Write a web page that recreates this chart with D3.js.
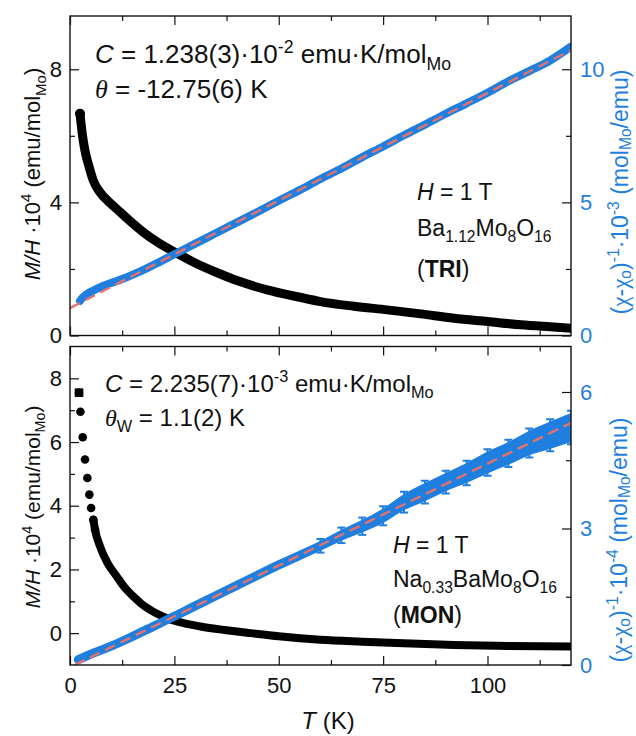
<!DOCTYPE html>
<html>
<head>
<meta charset="utf-8">
<script src="https://cdn.jsdelivr.net/npm/d3@7"></script>
<style>
  body { margin: 0; background: #fff; }
  text { font-family: "Liberation Sans", Arial, sans-serif; }
</style>
</head>
<body>
<div id="chart"></div>
<script>
// ==== Data ====

// TRI sample, M/H*10^4 (left axis)
const triT = [2.4, 3.0, 3.6, 4.5, 5.6, 7.2, 9.6, 11.2, 14, 17.6, 21, 25.6, 30, 35, 40, 47, 55, 60, 68, 76, 84, 92, 100, 108, 115, 120];
const triM = [6.66, 6.0, 5.55, 5.1, 4.65, 4.3, 3.98, 3.8, 3.48, 3.1, 2.8, 2.47, 2.18, 1.9, 1.65, 1.38, 1.15, 1.02, 0.88, 0.77, 0.65, 0.52, 0.42, 0.32, 0.26, 0.22];

// TRI sample, inverse susceptibility *10^-3 (right axis)
const triInvT = [2.4, 3, 4, 5.5, 7, 10, 13, 16, 20, 25, 30, 35, 40, 45, 50, 55, 60, 65, 70, 75, 80, 85, 90, 95, 100, 105, 110, 115, 120];
const triInv = [1.30, 1.42, 1.55, 1.68, 1.80, 1.98, 2.15, 2.35, 2.65, 3.05, 3.45, 3.85, 4.25, 4.65, 5.06, 5.46, 5.88, 6.27, 6.70, 7.10, 7.52, 7.92, 8.33, 8.72, 9.12, 9.55, 9.93, 10.33, 10.85];
const triFitT = [0, 120];
const triFitInv = [1.03, 10.72];

// MON sample, M/H*10^4 (left axis)
const monT = [2.16, 2.5, 3.05, 3.6, 4.16, 4.64, 5.05, 5.6, 6.0, 7.2, 9, 11.2, 13, 15.2, 17, 19.2, 21, 23.2, 27, 31.25, 37, 43.3, 50, 60, 70, 80, 92, 105, 120];
const monM = [7.55, 6.95, 6.15, 5.45, 4.87, 4.35, 3.93, 3.56, 3.25, 2.72, 2.2, 1.78, 1.45, 1.15, 0.93, 0.73, 0.6, 0.47, 0.32, 0.21, 0.1, 0.0, -0.1, -0.21, -0.27, -0.32, -0.37, -0.4, -0.42];

// MON sample, inverse susceptibility *10^-4 (right axis) with error
const monInvT = [2, 5, 10, 15, 20, 25, 30, 40, 50, 60, 65, 70, 75, 80, 85, 90, 95, 100, 105, 110, 115, 120];
const monInv = [0.12, 0.24, 0.42, 0.63, 0.85, 1.07, 1.3, 1.75, 2.2, 2.62, 2.85, 3.05, 3.28, 3.58, 3.8, 4.02, 4.22, 4.45, 4.65, 4.88, 5.05, 5.22];
const monErr = [0.05, 0.05, 0.05, 0.05, 0.05, 0.06, 0.06, 0.07, 0.08, 0.1, 0.12, 0.14, 0.16, 0.18, 0.2, 0.2, 0.22, 0.24, 0.25, 0.27, 0.3, 0.32];
const monFitT = [1.1, 120];
const monFitInv = [0, 5.32];

// ticks
const xMajor = [0, 25, 50, 75, 100];
const xMinor = [12.5, 37.5, 62.5, 87.5, 112.5];
const xLabels = ["0", "25", "50", "75", "100"];

const blue = "#1f7fde";
const red = "#e5716c";

// ==== Layout ====
const W = 636, H = 736;
const left = 70, right = 571;

const svg = d3.select("#chart").append("svg")
  .attr("width", W).attr("height", H);

const x = d3.scaleLinear().domain([0, 120]).range([left, right]);

const panels = [
  {
    id: "tri", top: 16, bottom: 335.5,
    yL: [0, 9.6], yR: [0, 12],
    lMajor: [0, 4, 8], lMinor: [2, 6],
    rMajor: [0, 5, 10], rMinor: [2.5, 7.5]
  },
  {
    id: "mon", top: 346.5, bottom: 665,
    yL: [-1, 9], yR: [0, 7],
    lMajor: [0, 2, 4, 6, 8], lMinor: [1, 3, 5, 7],
    rMajor: [0, 3, 6], rMinor: [1.5, 4.5]
  }
];

panels.forEach(p => {
  p.yLeft = d3.scaleLinear().domain(p.yL).range([p.bottom, p.top]);
  p.yRight = d3.scaleLinear().domain(p.yR).range([p.bottom, p.top]);
  svg.append("clipPath").attr("id", "clip-" + p.id)
    .append("rect")
    .attr("x", left).attr("y", p.top)
    .attr("width", right - left).attr("height", p.bottom - p.top);
});

// rich text helper: parts = [{t, i, b, sup, sub, serif}]
function rich(g, parts, px, py, size, anchor, subShift) {
  const t = g.append("text")
    .attr("x", px).attr("y", py)
    .attr("font-size", size)
    .attr("text-anchor", anchor || "start")
    .attr("fill", "#111");
  let shift = 0;
  parts.forEach(d => {
    const s = t.append("tspan").text(d.t);
    const target = d.sup ? -0.4 * size : d.sub ? (subShift || 0.25) * size : 0;
    s.attr("dy", target - shift);
    shift = target;
    if (d.sup || d.sub) s.attr("font-size", size * 0.68);
    if (d.i) s.attr("font-style", "italic");
    if (d.b) s.attr("font-weight", "bold");
    if (d.serif) s.attr("font-family", "'Liberation Serif', 'DejaVu Serif', serif");
  });
  return t;
}

// ==== Axes ====
function drawAxes(p, showXLabels) {
  const g = svg.append("g").attr("class", "axes-" + p.id);

  const tickStyle = sel => {
    sel.select(".domain").remove();
    sel.selectAll(".tick line").attr("stroke", "#111").attr("stroke-width", 1.2);
    sel.selectAll(".tick text").attr("font-size", 22)
      .attr("font-family", "'Liberation Sans', Arial, sans-serif");
  };

  // bottom x
  g.append("g").attr("transform", `translate(0,${p.bottom})`)
    .call(d3.axisBottom(x).tickValues(xMajor).tickSize(-9).tickPadding(12)
      .tickFormat((d, i) => showXLabels ? xLabels[i] : ""))
    .call(tickStyle)
    .selectAll(".tick text").attr("fill", "#111");
  g.append("g").attr("transform", `translate(0,${p.bottom})`)
    .call(d3.axisBottom(x).tickValues(xMinor).tickSize(-5).tickFormat(""))
    .call(tickStyle);

  // top x
  g.append("g").attr("transform", `translate(0,${p.top})`)
    .call(d3.axisTop(x).tickValues(xMajor).tickSize(-9).tickFormat(""))
    .call(tickStyle);
  g.append("g").attr("transform", `translate(0,${p.top})`)
    .call(d3.axisTop(x).tickValues(xMinor).tickSize(-5).tickFormat(""))
    .call(tickStyle);

  // left
  g.append("g").attr("transform", `translate(${left},0)`)
    .call(d3.axisLeft(p.yLeft).tickValues(p.lMajor).tickSize(-9).tickPadding(8).tickFormat(d3.format("d")))
    .call(tickStyle)
    .selectAll(".tick text").attr("fill", "#111");
  g.append("g").attr("transform", `translate(${left},0)`)
    .call(d3.axisLeft(p.yLeft).tickValues(p.lMinor).tickSize(-5).tickFormat(""))
    .call(tickStyle);

  // right
  g.append("g").attr("transform", `translate(${right},0)`)
    .call(d3.axisRight(p.yRight).tickValues(p.rMajor).tickSize(-9).tickPadding(9).tickFormat(d3.format("d")))
    .call(tickStyle)
    .selectAll(".tick text").attr("fill", blue);
  g.append("g").attr("transform", `translate(${right},0)`)
    .call(d3.axisRight(p.yRight).tickValues(p.rMinor).tickSize(-5).tickFormat(""))
    .call(tickStyle);

  // frame
  g.append("rect")
    .attr("x", left).attr("y", p.top)
    .attr("width", right - left).attr("height", p.bottom - p.top)
    .attr("fill", "none").attr("stroke", "#111").attr("stroke-width", 1.4);
}

// ==== Marks ====
function lineOf(xs, ys, yScale) {
  return d3.line().x(d => x(d[0])).y(d => yScale(d[1])).curve(d3.curveMonotoneX)(d3.zip(xs, ys));
}

function drawTri(p) {
  const g = svg.append("g").attr("clip-path", "url(#clip-tri)");
  // black M/H
  g.append("path")
    .attr("d", lineOf(triT, triM, p.yLeft))
    .attr("fill", "none").attr("stroke", "#000")
    .attr("stroke-width", 9).attr("stroke-linecap", "round").attr("stroke-linejoin", "round");
  g.append("circle")
    .attr("cx", x(triT[0])).attr("cy", p.yLeft(triM[0])).attr("r", 5).attr("fill", "#000");
  // blue inverse
  g.append("path")
    .attr("d", lineOf(triInvT, triInv, p.yRight))
    .attr("fill", "none").attr("stroke", blue)
    .attr("stroke-width", 8).attr("stroke-linecap", "round");
  // fit
  g.append("path")
    .attr("d", d3.line().x(d => x(d[0])).y(d => p.yRight(d[1]))(d3.zip(triFitT, triFitInv)))
    .attr("fill", "none").attr("stroke", red)
    .attr("stroke-width", 2.4).attr("stroke-dasharray", "11 6");
}

function drawMon(p) {
  const g = svg.append("g").attr("clip-path", "url(#clip-mon)");
  const pts = d3.zip(monT, monM);
  // continuous part
  g.append("path")
    .attr("d", d3.line().x(d => x(d[0])).y(d => p.yLeft(d[1])).curve(d3.curveMonotoneX)(pts.filter(d => d[0] >= 5.6)))
    .attr("fill", "none").attr("stroke", "#000")
    .attr("stroke-width", 8).attr("stroke-linecap", "round").attr("stroke-linejoin", "round");
  // discrete low-T markers
  g.selectAll(".mk").data(pts.filter(d => d[0] < 7)).join("circle")
    .attr("class", "mk")
    .attr("cx", d => x(d[0])).attr("cy", d => p.yLeft(d[1]))
    .attr("r", 4.3).attr("fill", "#000");
  g.append("rect")
    .attr("x", x(monT[0]) - 4.3).attr("y", p.yLeft(monM[0]) - 4.3)
    .attr("width", 8.6).attr("height", 8.6).attr("fill", "#000");

  // blue with error envelope
  const bp = monInvT.map((t, i) => ({ t, v: monInv[i], e: monErr[i] }));
  g.append("path")
    .attr("d", d3.area().x(d => x(d.t)).y0(d => p.yRight(d.v - d.e)).y1(d => p.yRight(d.v + d.e))
      .curve(d3.curveMonotoneX)(bp))
    .attr("fill", blue);
  g.append("path")
    .attr("d", d3.line().x(d => x(d.t)).y(d => p.yRight(d.v)).curve(d3.curveMonotoneX)(bp))
    .attr("fill", "none").attr("stroke", blue)
    .attr("stroke-width", 9).attr("stroke-linecap", "round");
  const eb = g.selectAll(".eb").data(bp.filter(d => d.t >= 60)).join("g").attr("class", "eb");
  eb.append("line")
    .attr("x1", d => x(d.t)).attr("x2", d => x(d.t))
    .attr("y1", d => p.yRight(d.v - d.e - 0.05)).attr("y2", d => p.yRight(d.v + d.e + 0.05))
    .attr("stroke", blue).attr("stroke-width", 2);
  eb.selectAll(".cap").data(d => [d.v - d.e - 0.05, d.v + d.e + 0.05]).join("line")
    .attr("class", "cap")
    .attr("x1", function () { return x(d3.select(this.parentNode).datum().t) - 4; })
    .attr("x2", function () { return x(d3.select(this.parentNode).datum().t) + 4; })
    .attr("y1", d => p.yRight(d)).attr("y2", d => p.yRight(d))
    .attr("stroke", blue).attr("stroke-width", 2);

  // fit
  g.append("path")
    .attr("d", d3.line().x(d => x(d[0])).y(d => p.yRight(d[1]))(d3.zip(monFitT, monFitInv)))
    .attr("fill", "none").attr("stroke", red)
    .attr("stroke-width", 2.4).attr("stroke-dasharray", "11 6");
}

drawTri(panels[0]);
drawMon(panels[1]);
drawAxes(panels[0], false);
drawAxes(panels[1], true);

// ==== Texts ====
const tg = svg.append("g");

rich(tg, [{ t: "C", i: true }, { t: " = 1.238(3)·10" }, { t: "-2", sup: true }, { t: " emu·K/mol" }, { t: "Mo", sub: true }], 95, 63, 26);
rich(tg, [{ t: "θ", i: true, serif: true }, { t: " = -12.75(6) K" }], 95, 98, 26);
rich(tg, [{ t: "H", i: true }, { t: " = 1 T" }], 417, 200, 23);
rich(tg, [{ t: "Ba" }, { t: "1.12", sub: true }, { t: "Mo" }, { t: "8", sub: true }, { t: "O" }, { t: "16", sub: true }], 417, 236, 23);
rich(tg, [{ t: "(" }, { t: "TRI", b: true }, { t: ")" }], 417, 277, 23);

rich(tg, [{ t: "C", i: true }, { t: " = 2.235(7)·10" }, { t: "-3", sup: true }, { t: " emu·K/mol" }, { t: "Mo", sub: true }], 105, 392, 24);
rich(tg, [{ t: "θ", i: true, serif: true }, { t: "W", sub: true }, { t: " = 1.1(2) K" }], 105, 426, 24);
rich(tg, [{ t: "H", i: true }, { t: " = 1 T" }], 393, 553, 23);
rich(tg, [{ t: "Na" }, { t: "0.33", sub: true }, { t: "BaMo" }, { t: "8", sub: true }, { t: "O" }, { t: "16", sub: true }], 393, 587, 23);
rich(tg, [{ t: "(" }, { t: "MON", b: true }, { t: ")" }], 393, 623, 23);

// axis titles
rich(tg, [{ t: "T", i: true }, { t: " (K)" }], 328, 729, 24, "middle");

const leftTitle = [{ t: "M/H", i: true }, { t: " ·10" }, { t: "4", sup: true }, { t: " (emu/mol" }, { t: "Mo", sub: true }, { t: ")" }];
rich(tg, leftTitle, 0, 0, 22, "middle").attr("transform", "translate(40,174) rotate(-90)");
rich(tg, leftTitle, 0, 0, 21, "middle").attr("transform", "translate(40,507) rotate(-90)");

const rightTitle = e => [{ t: "(" }, { t: "χ", serif: true }, { t: "-" }, { t: "χ", serif: true }, { t: "o", sub: true }, { t: ")" },
  { t: "-1", sup: true }, { t: "·10" }, { t: e, sup: true }, { t: " (mol" }, { t: "Mo", sub: true }, { t: "/emu)" }];
rich(tg, rightTitle("-3"), 0, 0, 23, "middle", 0.15).attr("transform", "translate(628,192) rotate(-90)").attr("fill", blue);
rich(tg, rightTitle("-4"), 0, 0, 23, "middle", 0.15).attr("transform", "translate(627,540) rotate(-90)").attr("fill", blue);
</script>
</body>
</html>
